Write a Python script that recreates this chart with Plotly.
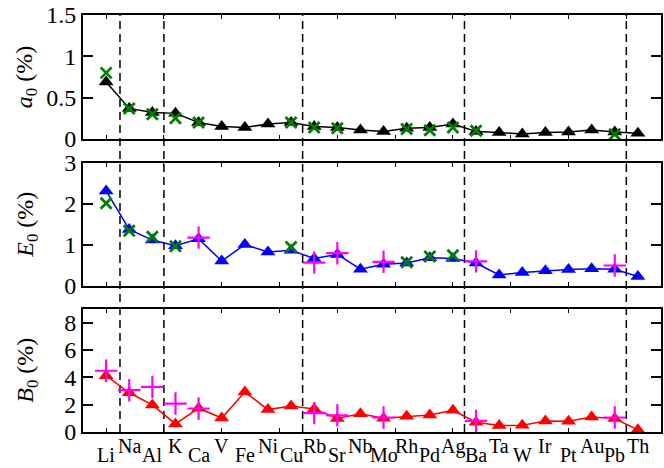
import plotly.graph_objects as go

elements = ["Li","Na","Al","K","Ca","V","Fe","Ni","Cu","Rb","Sr","Nb",
            "Mo","Rh","Pd","Ag","Ba","Ta","W","Ir","Pt","Au","Pb","Th"]
xpos = list(range(1, len(elements) + 1))

# a0 (%)
a0_main = [0.69,0.37,0.32,0.31,0.20,0.15,0.14,0.18,0.20,0.15,0.14,0.11,
           0.09,0.13,0.14,0.18,0.09,0.08,0.06,0.08,0.085,0.11,0.085,0.07]
a0_green = [0.80,0.37,0.30,0.25,0.20,None,None,None,0.20,0.14,0.13,None,
            None,0.12,0.105,0.14,0.10,None,None,None,None,None,0.057,None]

# E0 (%)
E0_main = [2.32,1.38,1.12,0.98,1.15,0.61,1.01,0.83,0.87,0.67,0.77,0.41,
           0.53,0.56,0.69,0.67,0.56,0.27,0.33,0.37,0.40,0.42,0.41,0.23]
E0_green = [2.02,1.35,1.20,0.97,None,None,None,None,0.95,None,None,None,
            None,0.58,0.72,0.75,None,None,None,None,None,None,None,None]
E0_magenta = [None,None,None,None,1.18,None,None,None,None,0.57,0.80,None,
              0.59,None,None,None,0.60,None,None,None,None,None,0.50,None]

# B0 (%)
B0_main = [4.12,2.87,1.98,0.59,1.74,1.02,2.92,1.64,1.90,1.68,0.99,1.33,
           1.00,1.15,1.25,1.59,0.72,0.47,0.49,0.80,0.78,1.10,0.98,0.16]
B0_magenta = [4.48,3.06,3.30,2.08,1.72,None,None,None,None,1.38,1.22,None,
              1.06,None,None,None,0.81,None,None,None,None,None,1.06,None]

period_breaks = [1.6, 3.5, 9.5, 16.5, 23.5]

y_titles = ["<i>a</i><sub>0</sub> (%)", "<i>E</i><sub>0</sub> (%)", "<i>B</i><sub>0</sub> (%)"]

FONT = "Liberation Serif, Times New Roman, serif"
W, H = 664, 468
ml, mr, mt, mb = 83, 1, 15, 36
plot_h = H - mt - mb

def dom(top_px, bot_px):
    return [(H - mb - bot_px) / plot_h, (H - mb - top_px) / plot_h]

fig = go.Figure()

def tri(y, color, ax):
    return go.Scatter(x=xpos, y=y, mode="lines+markers", xaxis="x" + ax, yaxis="y" + ax,
                      line=dict(color=color, width=1.5),
                      marker=dict(symbol="triangle-up", size=13, color=color),
                      showlegend=False, cliponaxis=False)

def xmark(y, ax):
    return go.Scatter(x=xpos, y=y, mode="markers", xaxis="x" + ax, yaxis="y" + ax,
                      marker=dict(symbol="x-thin", size=11, color="#008000",
                                  line=dict(color="#008000", width=2.8)),
                      showlegend=False, cliponaxis=False)

def plus(y, ax):
    return go.Scatter(x=xpos, y=y, mode="markers", xaxis="x" + ax, yaxis="y" + ax,
                      marker=dict(symbol="cross-thin", size=16, color="#FF00FF",
                                  line=dict(color="#FF00FF", width=2.2)),
                      showlegend=False, cliponaxis=False)

fig.add_trace(tri(a0_main, "black", ""))
fig.add_trace(xmark(a0_green, ""))
fig.add_trace(tri(E0_main, "#0000FF", "2"))
fig.add_trace(xmark(E0_green, "2"))
fig.add_trace(plus(E0_magenta, "2"))
fig.add_trace(tri(B0_main, "#FF0000", "3"))
fig.add_trace(plus(B0_magenta, "3"))

xcommon = dict(range=[0, 25], showticklabels=False, ticks="inside", ticklen=4,
               tick0=1, dtick=2.5, tickcolor="black", showgrid=False, zeroline=False,
               showline=True, linecolor="black", linewidth=2, mirror="ticks")
ycommon = dict(ticks="inside", ticklen=10, tickcolor="black", tickwidth=1.5,
               showgrid=False, zeroline=False, showline=True, linecolor="black",
               linewidth=2, mirror="ticks",
               tickfont=dict(family=FONT, size=24, color="black"))

doms = [dom(15, 139), dom(163, 286), dom(309, 432)]

fig.update_layout(
    width=W, height=H, margin=dict(l=ml, r=mr, t=mt, b=mb),
    paper_bgcolor="white", plot_bgcolor="white",
    xaxis=dict(xcommon, anchor="y"),
    xaxis2=dict(xcommon, anchor="y2", matches="x"),
    xaxis3=dict(xcommon, anchor="y3", matches="x"),
    yaxis=dict(ycommon, domain=doms[0], anchor="x", range=[0, 1.5],
               tickvals=[0, 0.5, 1, 1.5], ticktext=["0", "0.5", "1", "1.5"]),
    yaxis2=dict(ycommon, domain=doms[1], anchor="x2", range=[0, 3],
                tickvals=[0, 1, 2, 3]),
    yaxis3=dict(ycommon, domain=doms[2], anchor="x3", range=[0, 9],
                tickvals=[0, 2, 4, 6, 8]),
)

shapes = []
for b in period_breaks:
    shapes.append(dict(type="line", xref="x", yref="paper", x0=b, x1=b, y0=0, y1=1,
                       line=dict(color="black", width=1.5, dash="8px,5px"), layer="below"))
fig.update_layout(shapes=shapes)

annotations = []
for i, (el, xp) in enumerate(zip(elements, xpos)):
    low = (i % 2 == 0)
    annotations.append(dict(x=xp, y=0, xref="x3", yref="paper", text=el,
                            showarrow=False, xanchor="center", yanchor="top",
                            yshift=-11 if low else -2, borderpad=0,
                            font=dict(family=FONT, size=20, color="black")))
for t, d in zip(y_titles, doms):
    annotations.append(dict(x=-(ml - 26) / (W - ml - mr), y=(d[0] + d[1]) / 2,
                            xref="paper", yref="paper", text=t, textangle=-90,
                            showarrow=False, xanchor="center", yanchor="middle",
                            font=dict(family=FONT, size=24, color="black")))
fig.update_layout(annotations=annotations)

fig.write_html("out.html", config={"displayModeBar": False},
               post_script="document.body.style.margin='0';document.body.style.overflow='hidden';")
